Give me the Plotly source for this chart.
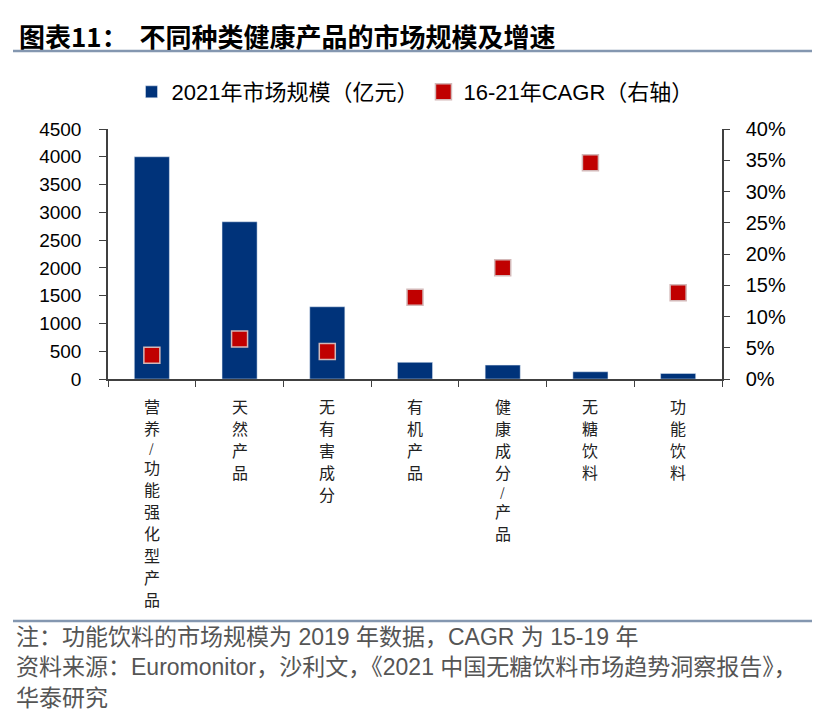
import plotly.graph_objects as go

# 数据：图表11 不同种类健康产品的市场规模及增速
categories = ["营养/功能强化型产品", "天然产品", "无有害成分", "有机产品",
              "健康成分/产品", "无糖饮料", "功能饮料"]
market_size = [4000, 2830, 1300, 300, 250, 130, 100]          # 2021年市场规模（亿元）
cagr = [0.038, 0.064, 0.044, 0.131, 0.178, 0.346, 0.138]      # 16-21年CAGR（右轴）

font_main = "Liberation Sans, Arial, Noto Sans CJK SC"
axis_color = "#404040"

# page puts the figure 8px in from the corner, so work in page pixels minus 8
OFF = 8
W, H = 820, 720
x_left, x_right, y_top, y_bot = 108 - OFF, 722 - OFF, 129 - OFF, 379 - OFF
L, R, T, B = x_left, W - x_right, y_top, H - y_bot
PW, PH = x_right - x_left, y_bot - y_top


def px(x):
    # page x pixel -> paper coordinate
    return (x - OFF - x_left) / PW


def py(y):
    # page y pixel -> paper coordinate
    return (y_bot - (y - OFF)) / PH


fig = go.Figure()
fig.add_trace(go.Bar(
    x=categories, y=market_size, name="2021年市场规模（亿元）",
    marker=dict(color="#00337a"), width=0.4
))
fig.add_trace(go.Scatter(
    x=categories, y=cagr, name="16-21年CAGR（右轴）", yaxis="y2",
    mode="markers",
    marker=dict(symbol="square", size=16, color="#c00000",
                line=dict(color="#d3b8b8", width=1.5))
))

fig.update_layout(
    width=W, height=H,
    margin=dict(l=L, r=R, t=T, b=B, autoexpand=False),
    paper_bgcolor="white", plot_bgcolor="white",
    font=dict(family=font_main, size=19, color="#000000"),
    showlegend=True,
    legend=dict(orientation="h", x=0.5, xanchor="center", y=py(92), yanchor="middle",
                font=dict(size=22, family=font_main), itemwidth=30,
                traceorder="normal"),
    xaxis=dict(
        showticklabels=False, tickson="boundaries", ticks="outside", ticklen=6,
        tickcolor=axis_color, showline=True, linecolor=axis_color, linewidth=1.5,
        showgrid=False, fixedrange=True
    ),
    yaxis=dict(
        range=[0, 4500], dtick=500, ticks="outside", ticklen=7, ticklabelstandoff=14,
        tickcolor=axis_color, showline=True, linecolor=axis_color, linewidth=1.5,
        showgrid=False, zeroline=False, tickfont=dict(size=19)
    ),
    yaxis2=dict(
        range=[0, 0.4], dtick=0.05, tickformat=".0%", overlaying="y", side="right",
        ticks="outside", ticklen=6, ticklabelstandoff=12, tickcolor=axis_color,
        showline=True, linecolor=axis_color, linewidth=1.5, showgrid=False,
        zeroline=False, tickfont=dict(size=20)
    ),
)

# vertical category labels, one character per row (slash is smaller, shorter row)
for cat in categories:
    pos = 395
    for ch in cat:
        if ch == "/":
            step, size = 17, 12
        else:
            step, size = 22, 16
        center = pos + step / 2
        pos += step
        fig.add_annotation(
            text=ch, x=cat, xref="x", y=0, yref="paper", borderpad=0,
            yanchor="middle", xanchor="center", yshift=-(center - 379), showarrow=False,
            font=dict(family="Noto Sans CJK SC", size=size, color="#222222")
        )

# title and rules
fig.add_annotation(
    text="<b>图表11：  不同种类健康产品的市场规模及增速</b>",
    xref="paper", yref="paper", x=px(17), y=py(35),
    xanchor="left", yanchor="middle", showarrow=False,
    font=dict(family="Noto Sans CJK SC", size=26, color="#000000")
)
for yy in (51, 621):
    fig.add_shape(type="line", xref="paper", yref="paper",
                  x0=px(13), x1=px(828), y0=py(yy), y1=py(yy),
                  line=dict(color="#8497b0", width=2.5))

# footnotes
notes = [
    "注：功能饮料的市场规模为 2019 年数据，CAGR 为 15-19 年",
    "资料来源：Euromonitor，沙利文，《2021 中国无糖饮料市场趋势洞察报告》，",
    "华泰研究",
]
note_y = [637, 667, 698]
for t, yy in zip(notes, note_y):
    fig.add_annotation(
        text=t, xref="paper", yref="paper", x=px(14), y=py(yy),
        xanchor="left", yanchor="middle", showarrow=False,
        font=dict(family="Liberation Sans, Noto Sans CJK SC", size=23, color="#555555")
    )

fig.write_html("out.html")
